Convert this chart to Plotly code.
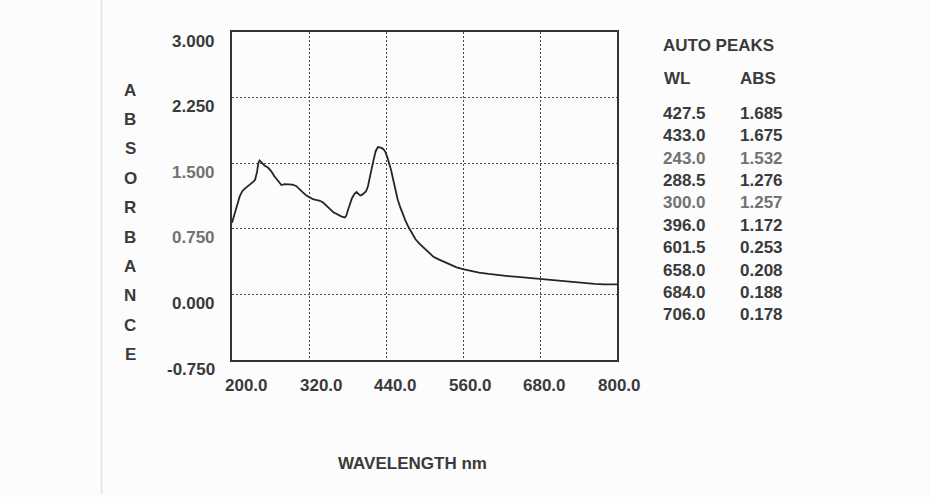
import plotly.graph_objects as go

# ---------------- data ----------------
wavelength = [200, 204, 208, 212, 216, 220, 226, 232, 236, 239, 241, 243, 246, 251, 256,
              261, 266, 271, 277, 282, 288, 294, 300, 305, 310, 316, 321, 326, 331, 337,
              342, 347, 352, 358, 365, 371, 376, 378, 381, 384, 387, 391, 394, 397, 400,
              403, 406, 409, 412, 415, 418, 421, 424, 427.5, 430, 433, 436, 439, 442, 445,
              448, 451, 454, 458, 462, 466, 470, 475, 480, 486, 492, 499, 506, 514, 522,
              531, 540, 550, 560, 572, 585, 600, 615, 630, 645, 660, 675, 690, 705, 720,
              735, 750, 765, 780, 800]
absorbance = [0.82, 0.91, 1.02, 1.12, 1.18, 1.21, 1.24, 1.28, 1.31, 1.40, 1.50, 1.53, 1.51, 1.47, 1.45,
              1.41, 1.35, 1.30, 1.25, 1.26, 1.26, 1.255, 1.24, 1.21, 1.17, 1.13, 1.11, 1.09, 1.08, 1.07,
              1.05, 1.01, 0.98, 0.94, 0.91, 0.89, 0.88, 0.90, 0.97, 1.05, 1.10, 1.15, 1.17, 1.15, 1.13,
              1.14, 1.16, 1.18, 1.24, 1.33, 1.45, 1.55, 1.64, 1.685, 1.68, 1.675, 1.66, 1.63, 1.57, 1.50,
              1.42, 1.32, 1.21, 1.09, 1.00, 0.92, 0.85, 0.77, 0.70, 0.63, 0.58, 0.53, 0.48, 0.43, 0.40,
              0.37, 0.34, 0.31, 0.29, 0.27, 0.25, 0.235, 0.22, 0.21, 0.20, 0.19, 0.18, 0.17, 0.16, 0.145,
              0.135, 0.125, 0.12, 0.115, 0.115]

x_ticks = [200, 320, 440, 560, 680, 800]
x_tick_labels = ["200.0", "320.0", "440.0", "560.0", "680.0", "800.0"]
y_ticks = [-0.75, 0.0, 0.75, 1.5, 2.25, 3.0]
y_tick_labels = ["-0.750", "0.000", "0.750", "1.500", "2.250", "3.000"]

y_title = "ABSORBANCE"
x_title = "WAVELENGTH nm"

peaks_title = "AUTO PEAKS"
peaks_headers = ["WL", "ABS"]
peak_wl = ["427.5", "433.0", "243.0", "288.5", "300.0", "396.0", "601.5", "658.0", "684.0", "706.0"]
peak_abs = ["1.685", "1.675", "1.532", "1.276", "1.257", "1.172", "0.253", "0.208", "0.188", "0.178"]

# ---------------- style ----------------
FONT = "Liberation Sans, Arial, sans-serif"
INK = "#3a3a3a"
FAINT = "#727272"
BG = "#fcfcfc"
FS = 17

W, H = 930, 497
L, R, T, B = 232, 313, 32, 137
plot_h = H - T - B
plot_w = W - L - R


def px_to_paper_x(px):
    return (px - L) / plot_w


def px_to_paper_y(py):
    return (H - B - py) / plot_h


fig = go.Figure()
fig.add_trace(go.Scatter(x=wavelength, y=absorbance, mode="lines",
                         line=dict(color="#262626", width=1.8), hoverinfo="skip",
                         showlegend=False))

axis_common = dict(showline=True, mirror=True, linecolor="#333333", linewidth=1.5,
                   showgrid=True, gridcolor="#4a4a4a", gridwidth=1, griddash="2px,2px",
                   zeroline=False, showticklabels=False, ticks="")

fig.update_xaxes(range=[200, 800], tickvals=x_ticks, **axis_common)
fig.update_yaxes(range=[-0.75, 3.0], tickvals=y_ticks, **axis_common)

ann = []
faint_y = {"0.750", "1.500"}
for v, lab in zip(y_ticks, y_tick_labels):
    ann.append(dict(x=0, xref="paper", y=v, yref="y", text=lab, showarrow=False,
                    xanchor="right", yanchor="middle", xshift=-15, yshift=-9,
                    font=dict(family=FONT, size=FS, color=FAINT if lab in faint_y else INK,
                              weight="bold")))
for i, (v, lab) in enumerate(zip(x_ticks, x_tick_labels)):
    ann.append(dict(x=v, xref="x", y=-0.75, yref="y", text=lab, showarrow=False,
                    xanchor="center", yanchor="middle", xshift=14.5 - 2.4 * i, yshift=-25,
                    font=dict(family=FONT, size=FS, color=INK, weight="bold")))

# vertical y-axis title, one letter per line
for i, ch in enumerate(y_title):
    ann.append(dict(x=px_to_paper_x(130), xref="paper", y=px_to_paper_y(90 + 29.4 * i),
                    yref="paper", text=ch, showarrow=False, xanchor="center",
                    yanchor="middle",
                    font=dict(family=FONT, size=FS, color=INK, weight="bold")))

ann.append(dict(x=px_to_paper_x(412), xref="paper", y=px_to_paper_y(463), yref="paper",
                text=x_title, showarrow=False, xanchor="center", yanchor="middle",
                font=dict(family=FONT, size=FS, color=INK, weight="bold")))

# peak table
ann.append(dict(x=px_to_paper_x(661), xref="paper", y=px_to_paper_y(45), yref="paper",
                text=peaks_title, showarrow=False, xanchor="left", yanchor="middle",
                font=dict(family=FONT, size=FS, color=INK, weight="bold")))
for px, h in zip([662, 738], peaks_headers):
    ann.append(dict(x=px_to_paper_x(px), xref="paper", y=px_to_paper_y(78.5), yref="paper",
                    text=h, showarrow=False, xanchor="left", yanchor="middle",
                    font=dict(family=FONT, size=FS, color=INK, weight="bold")))
faint_rows = {2, 4}
for i, (wl, ab) in enumerate(zip(peak_wl, peak_abs)):
    col = FAINT if i in faint_rows else INK
    yy = px_to_paper_y(113.3 + 22.4 * i)
    for px, t in zip([661, 738], [wl, ab]):
        ann.append(dict(x=px_to_paper_x(px), xref="paper", y=yy, yref="paper", text=t,
                        showarrow=False, xanchor="left", yanchor="middle",
                        font=dict(family=FONT, size=FS, color=col, weight="bold")))

fig.update_layout(
    width=W, height=H,
    margin=dict(l=L, r=R, t=T, b=B),
    paper_bgcolor=BG, plot_bgcolor=BG,
    annotations=ann,
    shapes=[dict(type="line", xref="paper", yref="paper",
                 x0=px_to_paper_x(101.5), x1=px_to_paper_x(101.5),
                 y0=px_to_paper_y(0), y1=px_to_paper_y(494),
                 line=dict(color="#e2e2e2", width=1.5))],
    showlegend=False,
)

fig.write_html("out.html")
